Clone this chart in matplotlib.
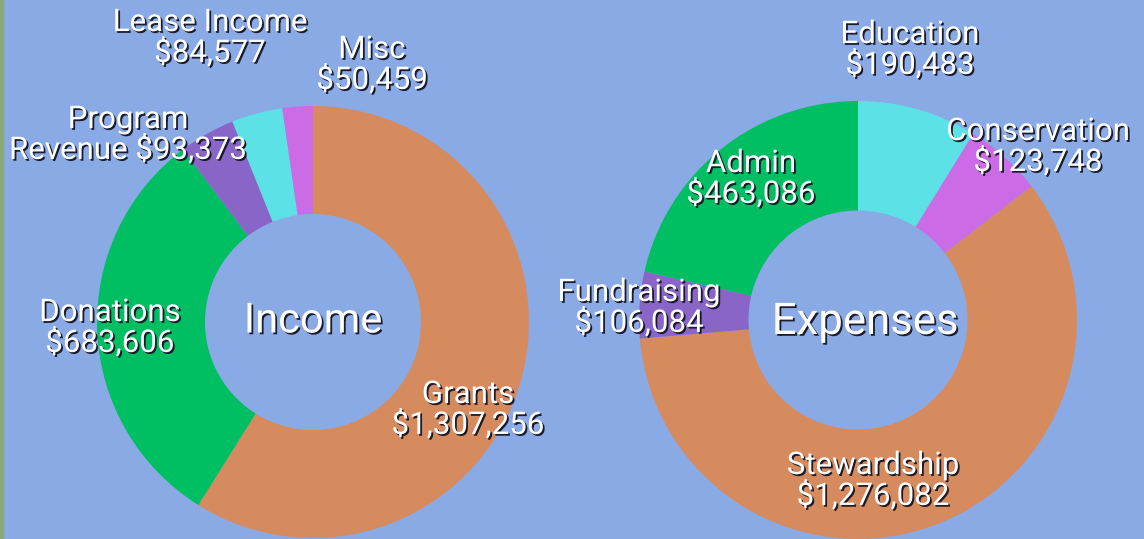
import matplotlib.pyplot as plt
import matplotlib.patheffects as pe
from matplotlib.patches import Rectangle

plt.rcParams['font.family'] = ['Roboto', 'DejaVu Sans']

W, H = 1144, 539
bg = '#8AAAE5'

income_labels = ['Grants', 'Donations', 'Program\nRevenue', 'Lease Income', 'Misc']
income_values = [1307256, 683606, 93373, 84577, 50459]
income_colors = ['#D68B5F', '#00BF63', '#8865C7', '#5CE1E6', '#CB6CE6']

expense_labels = ['Education', 'Conservation', 'Stewardship', 'Fundraising', 'Admin']
expense_values = [190483, 123748, 1276082, 106084, 463086]
expense_colors = ['#5CE1E6', '#CB6CE6', '#D68B5F', '#8865C7', '#00BF63']

# label block centres, in pixels from the top-left corner
income_label_pos = [(468, 410), (110, 328), (128, 135), (210, 38), (372, 65)]
expense_label_pos = [(910, 50), (1038, 147), (873, 481), (639, 308), (751, 179)]

shadow = [pe.withSimplePatchShadow(offset=(1.3, -1.3), shadow_rgbFace='#151525', alpha=0.95)]

fig = plt.figure(figsize=(W / 100, H / 100), dpi=100)
fig.patch.set_facecolor(bg)
ax = fig.add_axes([0, 0, 1, 1])


def donut(values, colors, cx, cy, r, labels, label_pos, title, title_pos, title_size):
    ax.pie(values, colors=colors, startangle=90, counterclock=False,
           center=(cx, H - cy), radius=r,
           wedgeprops=dict(width=r / 2, linewidth=0))
    for lab, val, (lx, ly) in zip(labels, values, label_pos):
        if '\n' in lab:
            a, b = lab.split('\n')
            txt = a + '\n' + b + ' ${:,}'.format(val)
        else:
            txt = lab + '\n' + '${:,}'.format(val)
        ax.text(lx, H - ly, txt, ha='center', va='center', color='white',
                fontsize=22.5, linespacing=0.98, path_effects=shadow)
    ax.text(title_pos[0], H - title_pos[1], title, ha='center', va='center',
            color='white', fontsize=title_size, path_effects=shadow)


donut(income_values, income_colors, 313, 322, 216, income_labels,
      income_label_pos, 'Income', (313, 321), 30)
donut(expense_values, expense_colors, 858, 320, 219, expense_labels,
      expense_label_pos, 'Expenses', (865, 322), 31.5)

ax.add_patch(Rectangle((0, 0), 3, H, color='#8BAA7C', zorder=5))

ax.set_xlim(0, W)
ax.set_ylim(0, H)
ax.set_aspect('auto')
ax.axis('off')

fig.savefig('out.png', dpi=100, facecolor=bg)
